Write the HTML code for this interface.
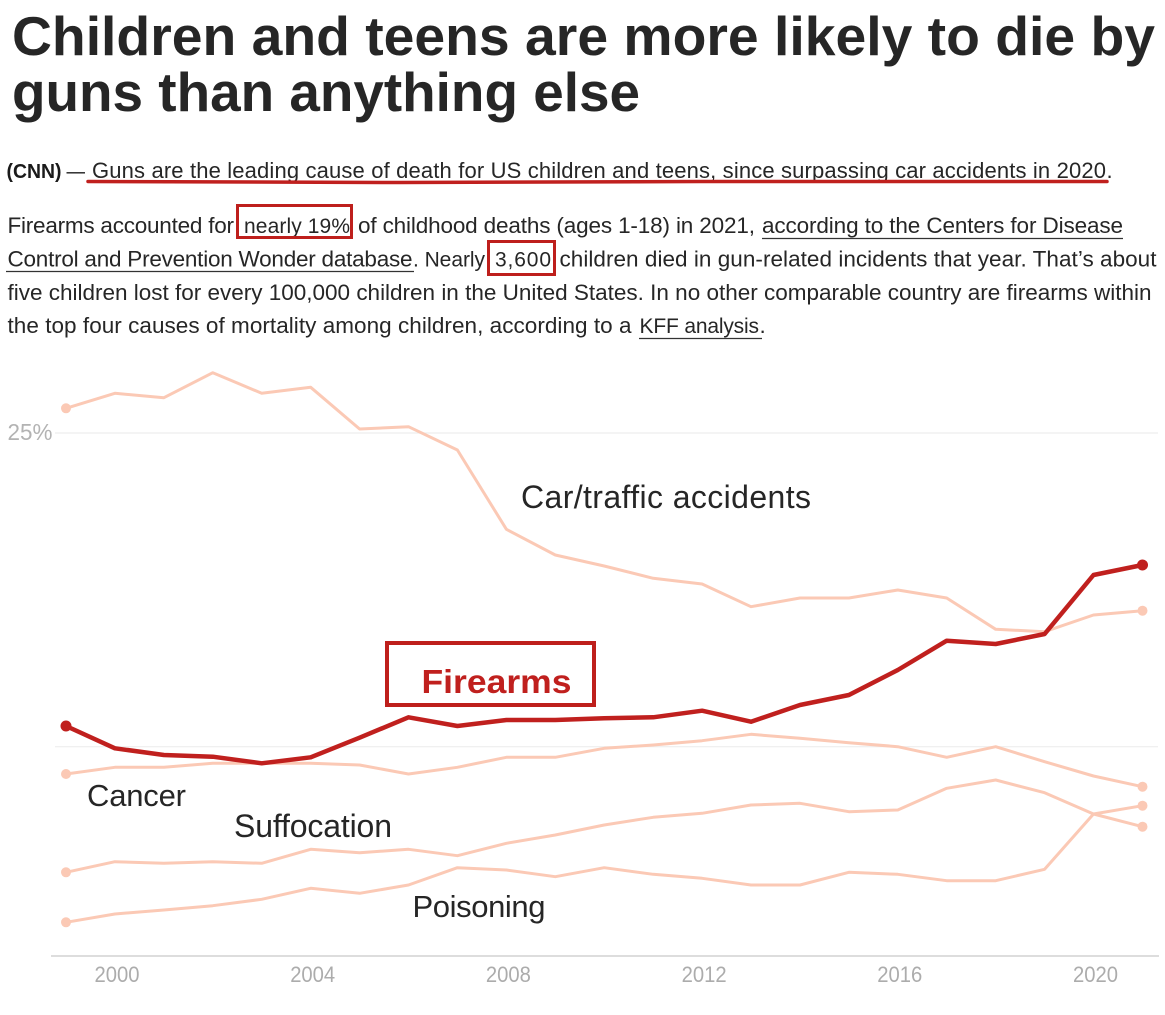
<!DOCTYPE html>
<html>
<head>
<meta charset="utf-8">
<style>
  html,body{margin:0;padding:0;background:#fff;}
  svg{display:block;}
  .t{font-family:"Liberation Sans",Arial,sans-serif;}
</style>
</head>
<body>
<svg width="1165" height="1015" viewBox="0 0 1165 1015" xmlns="http://www.w3.org/2000/svg">
  <rect x="0" y="0" width="1165" height="1015" fill="#ffffff"/>

  <!-- Title -->
  <text class="t" x="12" y="55" font-size="55" font-weight="bold" fill="#262626" textLength="1143" lengthAdjust="spacingAndGlyphs">Children and teens are more likely to die by</text>
  <text class="t" x="12" y="111" font-size="55" font-weight="bold" fill="#262626" textLength="628" lengthAdjust="spacingAndGlyphs">guns than anything else</text>

  <!-- Paragraph 1 -->
  <text class="t" x="6.5" y="178" font-size="20" font-weight="bold" fill="#1a1a1a" textLength="55" lengthAdjust="spacingAndGlyphs">(CNN)</text>
  <text class="t" x="66.5" y="178" font-size="20" fill="#1a1a1a" textLength="18.5" lengthAdjust="spacingAndGlyphs">—</text>
  <text class="t" x="92" y="178" font-size="22" fill="#262626" textLength="1014" lengthAdjust="spacing">Guns are the leading cause of death for US children and teens, since surpassing car accidents in 2020</text>
  <text class="t" x="1106.5" y="178" font-size="22" fill="#262626">.</text>
  <path d="M88 181.5 L400 182.5 L700 181.5 L1107 181.5" stroke="#c0201e" stroke-width="3.5" fill="none" stroke-linecap="round"/>

  <!-- Paragraph 2 -->
  <g class="t" font-size="22.5" fill="#262626">
    <text x="7.5" y="233" textLength="226.5" lengthAdjust="spacing">Firearms accounted for</text>
    <text x="244" y="233" font-size="21" textLength="106" lengthAdjust="spacing">nearly 19%</text>
    <text x="358" y="233" textLength="397" lengthAdjust="spacing">of childhood deaths (ages 1-18) in 2021,</text>
    <text x="762" y="233" textLength="361" lengthAdjust="spacing">according to the Centers for Disease</text>

    <text x="7.5" y="266.5" textLength="405" lengthAdjust="spacing">Control and Prevention Wonder database</text>
    <text x="413" y="266.5" font-size="21" textLength="72" lengthAdjust="spacing">. Nearly</text>
    <text x="495" y="266.5" font-size="21" textLength="56" lengthAdjust="spacing">3,600</text>
    <text x="559.5" y="266.5" textLength="597" lengthAdjust="spacing">children died in gun-related incidents that year. That’s about</text>

    <text x="7.5" y="300" textLength="1144" lengthAdjust="spacing">five children lost for every 100,000 children in the United States. In no other comparable country are firearms within</text>

    <text x="7.5" y="333" textLength="624" lengthAdjust="spacing">the top four causes of mortality among children, according to a</text>
    <text x="639.5" y="333" font-size="21" textLength="119.5" lengthAdjust="spacing">KFF analysis</text>
    <text x="759.5" y="333">.</text>
  </g>
  <!-- link underlines -->
  <g stroke="#333" stroke-width="1.2">
    <line x1="762" y1="238.5" x2="1123" y2="238.5"/>
    <line x1="6" y1="271.5" x2="414" y2="271.5"/>
    <line x1="639" y1="338.5" x2="762" y2="338.5"/>
  </g>
  <!-- red highlight boxes -->
  <g fill="none" stroke="#be1f1c" stroke-width="3">
    <rect x="237.5" y="205.5" width="114" height="32"/>
    <rect x="488.5" y="241.5" width="66" height="33"/>
  </g>

  <!-- Chart grid -->
  <line x1="55" y1="433" x2="1158" y2="433" stroke="#eeeeee" stroke-width="1.2"/>
  <line x1="55" y1="746.7" x2="1158" y2="746.7" stroke="#eeeeee" stroke-width="1.2"/>
  <line x1="51" y1="956" x2="1159" y2="956" stroke="#dddddd" stroke-width="2"/>
  <text class="t" x="7.5" y="440" font-size="23" fill="#b3b3b3" textLength="45" lengthAdjust="spacingAndGlyphs">25%</text>

  <!-- x labels -->
  <g class="t" font-size="22" fill="#acacac" text-anchor="middle">
    <text x="117" y="982" textLength="45" lengthAdjust="spacingAndGlyphs">2000</text>
    <text x="312.7" y="982" textLength="45" lengthAdjust="spacingAndGlyphs">2004</text>
    <text x="508.4" y="982" textLength="45" lengthAdjust="spacingAndGlyphs">2008</text>
    <text x="704.1" y="982" textLength="45" lengthAdjust="spacingAndGlyphs">2012</text>
    <text x="899.8" y="982" textLength="45" lengthAdjust="spacingAndGlyphs">2016</text>
    <text x="1095.5" y="982" textLength="45" lengthAdjust="spacingAndGlyphs">2020</text>
  </g>

  <!-- Light series -->
  <g fill="none" stroke="#fbc9b5" stroke-width="3" stroke-linejoin="round" stroke-linecap="round">
    <!-- Car -->
    <polyline points="66,408.3 114.9,393.3 163.9,397.7 212.8,372.7 261.7,393.3 310.7,387.3 359.6,429 408.5,426.7 457.4,450 506.4,529.3 555.3,555 604.2,566 653.2,578.3 702.1,584 751,606.7 800,598 848.9,598 897.8,590 946.7,598 995.7,629.3 1044.6,631.7 1093.5,615 1142.5,610.7"/>
    <!-- Cancer -->
    <polyline points="66,774 114.9,767.3 163.9,767.3 212.8,763.3 261.7,763.3 310.7,763.3 359.6,765 408.5,774 457.4,767.3 506.4,757.3 555.3,757.3 604.2,748.3 653.2,745 702.1,740.7 751,734.3 800,738.3 848.9,742.7 897.8,746.7 946.7,757.3 995.7,746.7 1044.6,761.7 1093.5,776 1142.5,786.7"/>
    <!-- Suffocation -->
    <polyline points="66,872.3 114.9,861.7 163.9,863.3 212.8,861.7 261.7,863.3 310.7,849.3 359.6,852.7 408.5,849.3 457.4,855.7 506.4,843.3 555.3,835 604.2,825 653.2,817.3 702.1,813.3 751,805 800,803.3 848.9,811.7 897.8,810 946.7,788.3 995.7,780 1044.6,792.7 1093.5,814 1142.5,826.7"/>
    <!-- Poisoning -->
    <polyline points="66,922.3 114.9,914 163.9,910 212.8,905.7 261.7,899.3 310.7,888.3 359.6,893.3 408.5,885 457.4,867.7 506.4,870 555.3,876.7 604.2,867.7 653.2,874.3 702.1,878.3 751,885 800,885 848.9,872.3 897.8,874.3 946.7,880.7 995.7,880.7 1044.6,869.3 1093.5,814 1142.5,805.7"/>
  </g>
  <g fill="#fbc9b5">
    <circle cx="66" cy="408.3" r="5"/>
    <circle cx="1142.5" cy="610.7" r="5"/>
    <circle cx="66" cy="774" r="5"/>
    <circle cx="1142.5" cy="786.7" r="5"/>
    <circle cx="66" cy="872.3" r="5"/>
    <circle cx="1142.5" cy="826.7" r="5"/>
    <circle cx="66" cy="922.3" r="5"/>
    <circle cx="1142.5" cy="805.7" r="5"/>
  </g>

  <!-- Firearms -->
  <polyline fill="none" stroke="#c0201e" stroke-width="4.5" stroke-linejoin="round" stroke-linecap="round"
    points="66,726 114.9,748.3 163.9,755 212.8,756.7 261.7,763.3 310.7,757.3 359.6,737.7 408.5,717.3 457.4,726 506.4,720 555.3,720 604.2,718.3 653.2,717.3 702.1,710.7 751,721.7 800,705 848.9,695 897.8,670 946.7,640.7 995.7,644 1044.6,634 1093.5,575 1142.5,565"/>
  <circle cx="66" cy="726" r="5.5" fill="#c0201e"/>
  <circle cx="1142.5" cy="565" r="5.5" fill="#c0201e"/>

  <!-- Labels -->
  <g class="t" font-size="32" fill="#262626">
    <text x="521" y="508" textLength="290" lengthAdjust="spacing">Car/traffic accidents</text>
    <text x="87" y="806" font-size="31" textLength="99" lengthAdjust="spacing">Cancer</text>
    <text x="234" y="837" textLength="158" lengthAdjust="spacing">Suffocation</text>
    <text x="412.5" y="917" font-size="31" textLength="133" lengthAdjust="spacing">Poisoning</text>
  </g>
  <rect x="387" y="643" width="207" height="62" fill="none" stroke="#be1f1c" stroke-width="4"/>
  <text class="t" x="421.5" y="693" font-size="33" font-weight="bold" fill="#c0201e" textLength="150" lengthAdjust="spacingAndGlyphs">Firearms</text>
</svg>
</body>
</html>
